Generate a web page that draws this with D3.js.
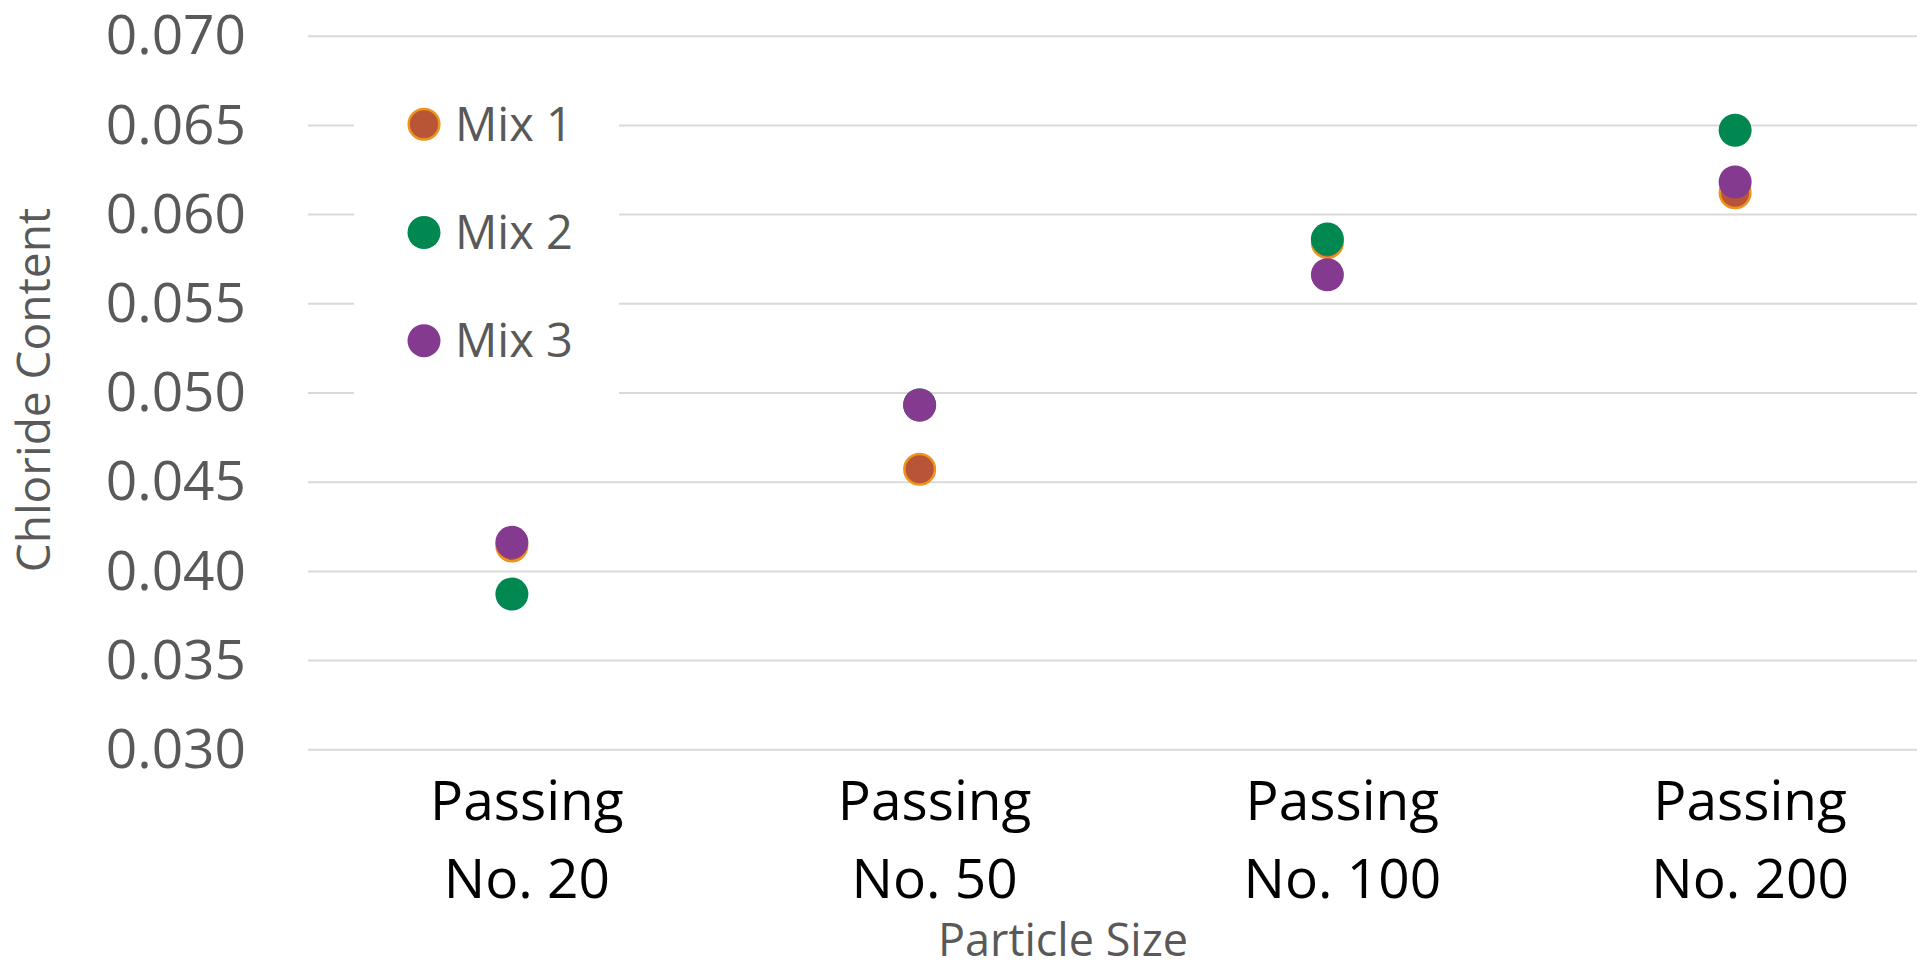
<!DOCTYPE html>
<html>
<head>
<meta charset="utf-8">
<script src="https://cdn.jsdelivr.net/npm/d3@7"></script>
<style>
  html, body { margin: 0; padding: 0; background: #ffffff; overflow: hidden; }
  svg { display: block; font-family: "Open Sans", "DejaVu Sans", sans-serif; }
</style>
</head>
<body>
<svg id="chart" width="1917" height="970"></svg>
<script>
// Chloride content by particle size for three mixes
const categories = ["Passing\nNo. 20", "Passing\nNo. 50", "Passing\nNo. 100", "Passing\nNo. 200"];
const seriesNames = ["Mix 1", "Mix 2", "Mix 3"];
const mix1 = [0.0414, 0.0457, 0.0584, 0.0612];
const mix2 = [0.0387, 0.0493, 0.0586, 0.0647];
const mix3 = [0.0416, 0.0493, 0.0566, 0.0618];
const yTicks = [0.030, 0.035, 0.040, 0.045, 0.050, 0.055, 0.060, 0.065, 0.070];

const seriesValues = [mix1, mix2, mix3];
const fills = ["#B75536", "#008850", "#833A8F"];
const strokes = ["#F0921E", "none", "none"];

const svg = d3.select("#chart");
const plot = { left: 308, right: 1939, top: 35.7, bottom: 749.3 };

const x = d3.scaleBand().domain(categories).range([plot.left, plot.right]).padding(0);
const y = d3.scaleLinear().domain([0.030, 0.070]).range([plot.bottom, plot.top]);
const cx = c => x(c) + x.bandwidth() / 2;

// horizontal gridlines
const grid = svg.append("g")
  .attr("transform", `translate(${plot.left},0)`)
  .call(d3.axisLeft(y).tickValues(yTicks).tickSize(-(plot.right - plot.left)).tickFormat(""));
grid.select(".domain").remove();
grid.selectAll("line").attr("stroke", "#D9D9D9").attr("stroke-width", 2);

// y tick labels
const yAxis = svg.append("g")
  .attr("transform", `translate(${plot.left},0)`)
  .call(d3.axisLeft(y).tickValues(yTicks).tickSize(0).tickPadding(62).tickFormat(d3.format(".3f")));
yAxis.select(".domain").remove();
yAxis.selectAll("text")
  .attr("fill", "#595959")
  .attr("font-size", 55)
  .attr("font-family", "'Open Sans', sans-serif")
  .attr("dy", "0.33em");

// x category labels (two lines each)
const xAxis = svg.append("g")
  .attr("transform", `translate(15,${plot.bottom})`)
  .call(d3.axisBottom(x).tickSize(0).tickFormat(""));
xAxis.select(".domain").remove();
xAxis.selectAll(".tick").each(function (d) {
  const t = d3.select(this).append("text")
    .attr("fill", "#000000")
    .attr("font-size", 55)
    .attr("font-family", "'Open Sans', sans-serif")
    .attr("text-anchor", "middle");
  d.split("\n").forEach((line, i) => {
    t.append("tspan").attr("x", 0).attr("y", 71 + i * 77.5).text(line);
  });
});

// axis titles
svg.append("text")
  .attr("transform", `translate(50,390) rotate(-90)`)
  .attr("text-anchor", "middle")
  .attr("fill", "#595959")
  .attr("font-size", 46)
  .text("Chloride Content");

svg.append("text")
  .attr("x", 1063)
  .attr("y", 956)
  .attr("text-anchor", "middle")
  .attr("fill", "#595959")
  .attr("font-size", 45)
  .text("Particle Size");

// data markers, drawn series by series
seriesValues.forEach((vals, s) => {
  svg.append("g").selectAll("circle")
    .data(vals.map((v, i) => ({ c: categories[i], v })))
    .join("circle")
    .attr("cx", d => cx(d.c))
    .attr("cy", d => y(d.v))
    .attr("r", s === 0 ? 15.3 : 16.5)
    .attr("fill", fills[s])
    .attr("stroke", strokes[s])
    .attr("stroke-width", s === 0 ? 2.5 : 0);
});

// legend
const legend = svg.append("g");
legend.append("rect")
  .attr("x", 354).attr("y", 62).attr("width", 265).attr("height", 340)
  .attr("fill", "#ffffff");
const legendY = d3.scalePoint().domain(seriesNames).range([124.3, 340.7]);
seriesNames.forEach((name, s) => {
  const ly = legendY(name);
  legend.append("circle")
    .attr("cx", 424).attr("cy", ly)
    .attr("r", s === 0 ? 15.3 : 16.5)
    .attr("fill", fills[s])
    .attr("stroke", strokes[s])
    .attr("stroke-width", s === 0 ? 2.5 : 0);
  legend.append("text")
    .attr("x", 455).attr("y", ly + 16.5)
    .attr("fill", "#595959")
    .attr("font-size", 47)
    .text(name);
});
</script>
</body>
</html>
